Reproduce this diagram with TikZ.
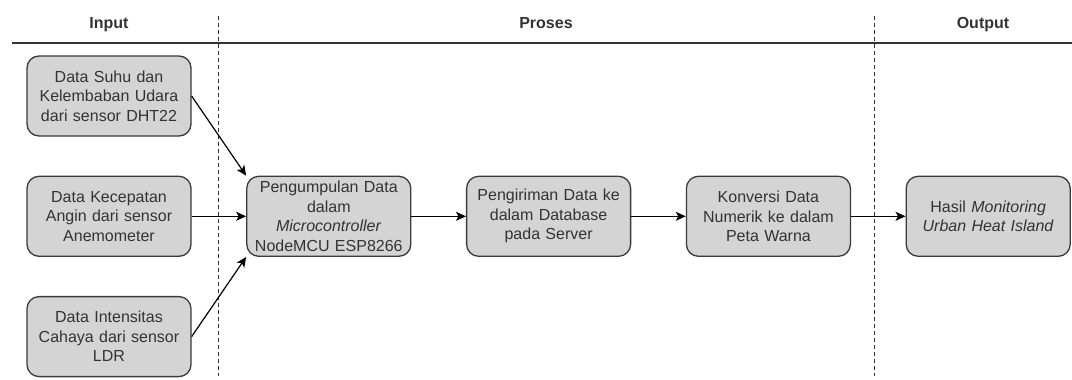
\documentclass[tikz,border=0pt]{standalone}
\usepackage{fontspec}
\setmainfont{Liberation Sans}
\usepackage{tikz}
\usetikzlibrary{arrows.meta,positioning}
\usepackage{xcolor}
\definecolor{laneline}{HTML}{333333}
\definecolor{boxfill}{HTML}{D4D4D4}
\definecolor{boxdraw}{HTML}{3A3A3A}
\definecolor{boxtext}{HTML}{333333}
\tikzset{
  procbox/.style={
    rectangle,
    rounded corners=12pt,
    draw=boxdraw,
    fill=boxfill,
    line width=1.3pt,
    align=center,
    text width=158pt,
    inner sep=3pt,
    minimum width=164pt,
    minimum height=80pt,
    text=boxtext,
    font=\fontsize{16}{19.5}\selectfont
  },
  lanetitle/.style={text=boxtext, anchor=base, font=\fontsize{16}{19.5}\selectfont\bfseries},
  lanesep/.style={draw=laneline, line width=1pt, dash pattern=on 4pt off 3pt},
  procarrow/.style={-{Stealth[length=10pt, width=9pt, inset=2.5pt]}, line width=1.2pt, draw=black}
}

\begin{document}
\begin{tikzpicture}[x=1pt, y=-1pt, node distance=39pt and 54.5pt]
\useasboundingbox (0,0) rectangle (1072,380);
% lane headers
\node[lanetitle] (hin) at (109,28) {Input};
\node[lanetitle] (hproc) at (546,28) {Proses};
\node[lanetitle] (hout) at (983,28) {Output};
\draw[draw=laneline, line width=1.3pt] (12,43) -- (1072,43);
\draw[lanesep] (218,16) -- (218,376);
\draw[lanesep] (874,16) -- (874,376);
% input sensors
\node[procbox] (suhu) at (109,96) {Data Suhu dan\\Kelembaban Udara\\dari sensor DHT22};
\node[procbox, below=of suhu] (angin) {Data Kecepatan\\Angin dari sensor\\Anemometer};
\node[procbox, below=of angin] (cahaya) {Data Intensitas\\Cahaya dari sensor\\LDR};
% processing chain
\node[procbox, right=of angin] (kumpul) {Pengumpulan Data\\dalam\\\textit{Microcontroller}\\NodeMCU ESP8266};
\node[procbox, right=of kumpul] (kirim) {Pengiriman Data ke\\dalam Database\\pada Server};
\node[procbox, right=of kirim] (konversi) {Konversi Data\\Numerik ke dalam\\Peta Warna};
\node[procbox, right=of konversi] (hasil) {Hasil \textit{Monitoring}\\\textit{Urban Heat Island}};
\draw[procarrow] (suhu.east) -- (kumpul.north west);
\draw[procarrow] (angin) -- (kumpul);
\draw[procarrow] (cahaya.east) -- (kumpul.south west);
\draw[procarrow] (kumpul) -- (kirim);
\draw[procarrow] (kirim) -- (konversi);
\draw[procarrow] (konversi) -- (hasil);
\end{tikzpicture}
\end{document}
